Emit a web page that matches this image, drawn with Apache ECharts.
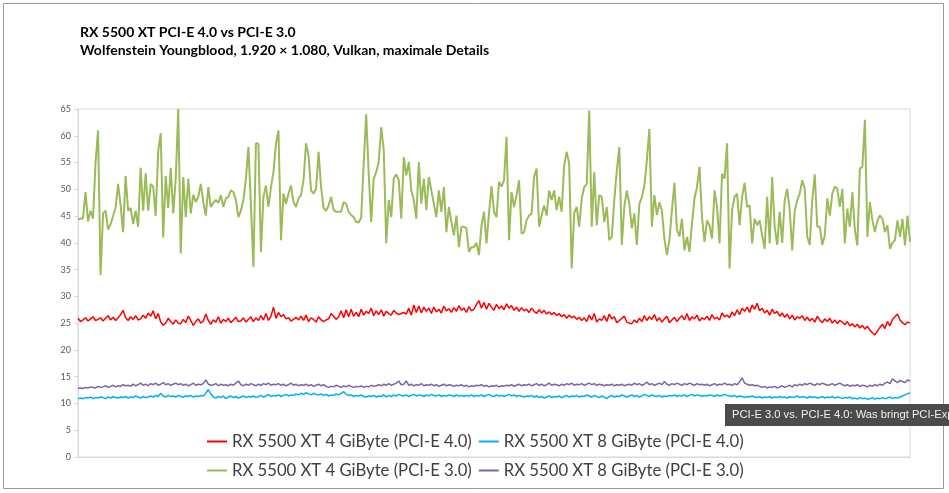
<!DOCTYPE html>
<html>
<head>
<meta charset="utf-8">
<script src="https://cdn.jsdelivr.net/npm/echarts@6/dist/echarts.min.js"></script>
<style>
  html, body { margin: 0; padding: 0; background: #ffffff; }
  #chart { width: 949px; height: 493px; }
</style>
</head>
<body>
<div id="chart"></div>
<script>
// ---------- data ----------
var titleLine1 = 'RX 5500 XT PCI-E 4.0 vs PCI-E 3.0';
var titleLine2 = 'Wolfenstein Youngblood, 1.920 \u00d7 1.080, Vulkan, maximale Details';
var captionText = 'PCI-E 3.0 vs. PCI-E 4.0: Was bringt PCI-Express 4.0?';

var seriesNames = [
  'RX 5500 XT 4 GiByte (PCI-E 4.0)',
  'RX 5500 XT 8 GiByte (PCI-E 4.0)',
  'RX 5500 XT 4 GiByte (PCI-E 3.0)',
  'RX 5500 XT 8 GiByte (PCI-E 3.0)'
];

var yTicks = [0, 5, 10, 15, 20, 25, 30, 35, 40, 45, 50, 55, 60, 65];

var red4GB_pcie4 = [
  25.9, 25.3, 25.6, 26.0, 25.4, 25.8, 26.2, 25.5, 25.7, 26.0,
  25.4, 25.9, 26.4, 25.6, 26.1, 25.5, 26.0, 26.6, 27.4, 26.0,
  25.5, 26.2, 25.7, 26.4, 25.6, 25.8, 26.5, 25.9, 26.9, 26.3,
  27.3, 25.8, 26.8, 25.2, 24.6, 25.0, 25.9, 25.3, 24.8, 25.6,
  25.0, 24.9, 25.7, 25.1, 26.3, 25.5, 24.6, 25.3, 25.8, 25.0,
  25.4, 26.7, 25.5, 24.8, 25.6, 25.2, 26.2, 25.0, 25.7, 25.3,
  25.9, 25.1, 25.6, 26.1, 25.3, 25.4, 26.0, 25.2, 25.7, 26.2,
  25.3, 26.0, 25.5, 26.4, 25.6, 26.8, 25.5, 26.3, 28.0, 25.9,
  27.0, 26.2, 26.6, 25.8, 26.0, 25.4, 25.7, 26.1, 25.6, 26.3,
  25.5, 26.5, 25.3, 26.0, 25.7, 25.2, 26.2, 25.6, 25.3, 25.6,
  25.8, 26.8, 26.3, 25.7, 26.2, 27.3, 26.0, 27.5, 26.2, 27.6,
  26.3, 27.0, 26.2, 27.6, 26.5, 27.2, 26.8, 27.8, 26.4, 27.3,
  26.6, 27.5, 26.3, 27.2, 26.8, 26.5, 27.4, 26.9, 26.6, 26.8,
  27.0, 26.7, 27.8, 26.5, 28.4, 27.0, 28.2, 26.9, 28.0, 27.2,
  27.8, 26.8, 28.0, 27.1, 27.6, 26.9, 28.2, 27.3, 27.7, 27.0,
  27.9, 27.2, 28.3, 27.4, 27.8, 27.0, 28.1, 27.3, 27.6, 28.5,
  29.2, 27.8, 28.9, 27.6, 28.7, 28.0, 27.4, 28.5, 27.7, 28.2,
  27.5, 28.6, 27.8, 28.3, 27.4, 28.0, 27.2, 27.9, 27.3, 27.6,
  27.0, 27.8, 27.2, 26.8, 27.5, 26.9, 27.4, 26.7, 27.1, 26.6,
  27.0, 26.4, 26.8, 26.2, 26.6, 25.9, 26.5, 26.0, 26.3, 25.7,
  26.1, 25.5, 26.0, 25.3, 26.5, 25.6, 26.8, 25.2, 25.8, 25.5,
  26.4, 25.3, 26.7, 25.8, 26.2, 25.1, 25.5, 25.9, 26.3, 25.2,
  25.0, 24.9, 25.6, 25.1, 25.9, 25.3, 26.4, 25.5, 26.2, 25.7,
  26.6, 25.4, 26.0, 25.2, 25.8, 26.3, 25.1, 25.6, 26.1, 25.3,
  25.9, 26.4, 25.6, 26.8, 25.5, 26.2, 25.8, 26.5, 25.4, 26.0,
  25.7, 26.3, 25.5, 26.6, 25.8, 26.1, 25.6, 26.9, 26.2, 26.5,
  26.0, 27.1, 26.4, 27.5, 26.6, 27.8, 27.2, 28.0, 27.0, 28.4,
  27.6, 28.7, 27.3, 27.8, 26.9, 27.4, 26.5, 27.6, 26.8, 27.2,
  26.3, 26.9, 26.1, 26.7, 25.8, 26.5, 25.6, 26.2, 25.9, 26.4,
  25.5, 26.1, 25.4, 25.9, 25.2, 26.3, 25.6, 25.1, 25.8, 25.3,
  25.9, 25.0, 25.6, 24.9, 25.5, 25.2, 24.7, 25.3, 24.5, 24.9,
  24.3, 24.8, 24.1, 24.6, 23.9, 24.4, 23.7, 23.2, 22.8, 23.5,
  24.2, 24.8, 24.0, 25.3, 24.5, 25.7, 26.2, 26.7, 25.6, 25.1,
  24.7, 25.2, 25.0
];

var blue8GB_pcie4 = [
  10.9, 11.0, 10.9, 11.1, 11.0, 11.2, 10.9, 11.1, 11.0, 11.2,
  11.1, 10.9, 11.2, 11.0, 11.3, 11.1, 11.0, 11.2, 11.1, 11.3,
  11.0, 11.2, 11.1, 11.4, 11.2, 11.0, 11.3, 11.1, 11.2, 11.4,
  11.2, 11.5, 11.3, 11.9, 11.4, 11.2, 11.5, 11.3, 11.4, 11.2,
  11.5, 11.3, 11.2, 11.4, 11.3, 11.5, 11.2, 11.4, 11.3, 11.5,
  11.4, 11.9, 12.6, 11.8, 11.2, 11.0, 11.3, 11.1, 11.4, 10.9,
  11.2, 11.4, 11.1, 11.3, 11.0, 11.2, 11.4, 11.1, 11.3, 11.2,
  11.4, 11.1, 11.3, 11.5, 11.2, 11.4, 11.7, 11.3, 11.5, 11.4,
  11.6, 11.3, 11.5, 11.7, 11.4, 11.6, 11.5, 11.8, 11.6, 11.9,
  11.7, 12.0, 11.8, 11.6, 11.9, 11.7, 11.6, 11.8, 11.5, 11.7,
  11.4, 11.6, 11.5, 11.8, 11.6, 11.9, 12.2, 11.7, 11.5, 11.6,
  11.3, 11.5, 11.4, 11.6, 11.3, 11.2, 11.4, 11.3, 11.5, 11.2,
  11.4, 11.3, 11.6, 11.2, 11.5, 11.3, 11.6, 11.4, 11.7, 11.5,
  11.4, 11.6, 11.3, 11.5, 11.7, 11.4, 11.6, 11.5, 11.3, 11.6,
  11.4, 11.7, 11.5, 11.4, 11.6, 11.3, 11.5, 11.4, 11.6, 11.5,
  11.3, 11.6, 11.4, 11.5, 11.3, 11.5, 11.4, 11.6, 11.3, 11.5,
  11.4, 11.6, 11.3, 11.5, 11.7, 11.4, 11.3, 11.6, 11.4, 11.5,
  11.3, 11.5, 11.7, 11.4, 11.6, 11.3, 11.5, 11.4, 11.2, 11.4,
  11.3, 11.5, 11.2, 11.4, 11.1, 11.3, 11.0, 11.2, 11.4, 11.1,
  11.3, 11.2, 11.4, 11.1, 11.3, 11.5, 11.2, 11.4, 11.3, 11.5,
  11.2, 11.4, 11.3, 11.6, 11.4, 11.2, 11.5, 11.3, 11.1, 11.4,
  11.2, 10.9, 11.3, 11.5, 11.2, 11.4, 11.3, 11.6, 11.4, 11.2,
  11.4, 11.6, 11.3, 11.5, 11.2, 11.4, 11.7, 11.5, 11.3, 11.6,
  11.4, 11.3, 11.5, 11.2, 11.4, 11.3, 11.5, 11.4, 11.6, 11.3,
  11.5, 11.4, 11.6, 11.3, 11.5, 11.7, 11.4, 11.6, 11.5, 11.3,
  11.5, 11.4, 11.6, 11.5, 11.3, 11.6, 11.4, 11.5, 11.7, 11.5,
  11.4, 11.3, 11.5, 11.2, 11.4, 11.3, 11.1, 11.3, 11.2, 11.4,
  11.2, 11.1, 11.3, 11.0, 11.2, 11.1, 11.3, 11.0, 11.2, 11.1,
  11.3, 11.1, 11.2, 11.0, 11.3, 11.1, 11.2, 11.4, 11.1, 11.3,
  11.2, 11.0, 11.3, 11.1, 11.2, 11.0, 11.1, 11.3, 11.0, 11.2,
  11.1, 11.3, 11.0, 11.2, 11.1, 10.9, 11.1, 11.0, 11.2, 10.9,
  11.0, 10.8, 11.1, 10.9, 11.0, 10.8, 10.9, 11.1, 10.8, 11.0,
  10.9, 11.1, 10.9, 11.0, 11.2, 10.9, 11.1, 11.0, 11.2, 11.4,
  11.6, 11.8, 12.0
];

var green4GB_pcie3 = [
  44.4, 44.5, 44.6, 49.5, 44.0, 46.0, 44.5, 55.0, 61.0, 34.0,
  45.5, 46.0, 42.5, 43.5, 45.0, 46.5, 51.0, 47.0, 42.0, 52.5,
  46.0, 46.5, 43.5, 46.0, 43.0, 54.0, 46.0, 53.0, 46.0, 51.0,
  50.5, 45.0, 57.0, 60.5, 41.0, 52.5, 46.5, 54.0, 45.5, 52.0,
  65.0, 38.0, 52.3, 44.8, 52.0, 45.5, 49.0, 47.6, 48.6, 51.0,
  47.6, 45.1, 50.4, 46.7, 47.5, 48.0, 47.5, 48.9, 46.7, 48.3,
  48.6, 49.8, 49.5, 48.0, 44.8, 46.0, 48.0, 52.0, 57.9, 47.0,
  35.5, 58.6, 58.5, 38.3, 48.6, 50.7, 46.7, 50.4, 53.2, 58.5,
  61.0, 40.5, 49.2, 47.3, 49.2, 50.7, 47.6, 46.7, 48.3, 48.9,
  51.7, 58.6, 56.3, 49.8, 49.2, 50.1, 57.0, 50.4, 46.5, 46.0,
  47.0, 48.6, 46.1, 45.8, 45.8, 45.8, 47.6, 47.3, 45.8, 45.2,
  44.8, 43.9, 43.8, 44.7, 54.8, 64.0, 52.9, 43.9, 52.0, 53.2,
  55.1, 61.6, 57.3, 39.9, 48.0, 44.8, 52.0, 52.8, 51.7, 44.5,
  56.0, 52.6, 55.1, 49.8, 48.0, 44.5, 55.1, 47.3, 52.0, 46.1,
  52.3, 49.8, 47.3, 44.8, 49.8, 45.8, 50.4, 42.0, 46.7, 43.9,
  41.4, 45.1, 39.2, 43.0, 43.0, 42.7, 38.3, 39.2, 39.2, 40.0,
  37.7, 43.2, 45.8, 39.9, 45.5, 50.6, 45.8, 44.8, 51.4, 50.5,
  51.7, 59.8, 40.5, 49.5, 46.7, 48.9, 51.7, 41.7, 42.0, 44.2,
  45.1, 45.5, 52.3, 53.9, 43.0, 45.1, 47.0, 45.1, 49.8, 48.0,
  49.8, 46.1, 48.6, 45.8, 54.5, 57.0, 54.8, 35.2, 45.5, 46.7,
  43.0, 48.3, 50.4, 51.0, 64.7, 43.0, 53.2, 43.3, 48.9, 48.6,
  43.9, 46.7, 40.5, 41.1, 48.0, 53.5, 57.9, 39.6, 46.7, 49.8,
  47.3, 42.7, 45.5, 39.6, 47.3, 48.5, 50.7, 55.4, 61.3, 43.0,
  48.9, 45.2, 47.6, 46.0, 40.8, 37.7, 40.5, 46.1, 51.2, 42.4,
  41.2, 44.5, 38.6, 41.1, 38.3, 43.6, 48.3, 50.4, 54.2, 44.8,
  40.2, 44.2, 43.3, 40.8, 49.8, 46.7, 39.9, 52.9, 52.0, 58.6,
  35.2, 46.1, 48.6, 49.2, 43.3, 48.6, 51.2, 46.7, 47.0, 39.9,
  44.5, 43.3, 44.2, 41.4, 38.9, 48.6, 39.9, 52.3, 43.0, 39.6,
  45.8, 40.0, 48.0, 50.1, 46.1, 38.6, 46.0, 48.0, 49.2, 51.7,
  50.1, 41.1, 39.6, 48.0, 52.8, 43.0, 43.0, 39.6, 41.4, 48.3,
  45.1, 49.2, 50.5, 50.1, 46.7, 50.1, 39.9, 46.4, 43.0, 49.5,
  42.4, 39.5, 53.9, 54.2, 63.0, 41.1, 47.6, 44.2, 42.0, 44.2,
  45.1, 44.5, 42.0, 43.3, 38.9, 40.0, 40.5, 44.2, 41.1, 44.5,
  39.5, 45.1, 40.2
];

var purple8GB_pcie3 = [
  12.8, 12.9, 12.8, 13.0, 12.9, 13.1, 13.0, 12.9, 13.2, 13.0,
  13.1, 13.3, 13.0, 13.2, 13.4, 13.1, 13.3, 13.2, 13.5, 13.3,
  13.4, 13.2, 13.6, 13.3, 13.5, 13.8, 13.4, 13.6, 13.3, 13.7,
  13.5, 13.8, 13.4, 13.6, 13.9, 13.5, 13.7, 13.4, 13.6, 13.8,
  13.5, 13.7, 13.4, 13.6, 13.3, 13.5, 13.8, 13.4, 13.6, 13.5,
  13.7, 14.4, 13.6, 13.4, 13.5, 13.7, 13.3, 13.6, 13.4, 13.5,
  13.3, 13.6, 13.4, 13.8, 14.2, 13.5, 13.3, 13.6, 13.4, 13.7,
  13.5, 13.3, 13.6, 13.4, 13.7, 13.5, 13.8, 13.4, 13.6, 13.5,
  13.7, 13.4, 13.6, 13.3, 13.5, 13.8, 13.4, 13.6, 13.3, 13.5,
  13.4, 13.6, 13.3, 13.5, 13.2, 13.4, 13.6, 13.3, 13.5, 13.2,
  13.0, 13.2, 13.1, 13.4, 13.2, 13.0, 13.3, 13.1, 13.4, 13.2,
  13.0, 13.2, 13.1, 13.3, 13.0, 13.2, 13.1, 13.4, 13.2, 13.3,
  13.5, 13.3, 13.6, 13.4, 13.7, 13.4, 13.6, 13.8, 14.2, 13.5,
  13.6, 14.2, 13.4, 13.6, 13.3, 13.5, 13.4, 13.7, 13.3, 13.5,
  13.4, 13.6, 13.3, 13.5, 13.2, 13.4, 13.6, 13.3, 13.5, 13.4,
  13.2, 13.4, 13.3, 13.5, 13.2, 13.4, 13.1, 13.3, 13.2, 13.4,
  13.3, 13.5, 13.2, 13.4, 13.1, 13.3, 13.2, 13.4, 13.1, 13.3,
  13.2, 13.4, 13.3, 13.5, 13.2, 13.4, 13.6, 13.3, 13.5, 13.4,
  13.6, 13.3, 13.5, 13.7, 13.4, 13.6, 13.3, 13.5, 13.8, 13.4,
  13.6, 13.5, 13.3, 13.6, 13.4, 13.7, 13.5, 13.8, 13.4, 13.6,
  13.5, 13.7, 13.4, 13.6, 13.8, 13.5, 13.7, 13.4, 13.6, 13.5,
  13.3, 13.5, 13.4, 13.6, 13.3, 13.5, 13.4, 13.6, 13.3, 13.5,
  13.6, 13.4, 13.8, 13.5, 13.7, 13.4, 13.6, 14.0, 13.5, 13.7,
  13.4, 13.6, 13.8, 13.5, 14.1, 13.6, 13.4, 13.7, 13.5, 13.8,
  13.6, 13.4, 13.7, 13.5, 13.8, 13.6, 13.4, 13.7, 13.5, 13.6,
  13.4, 13.6, 13.3, 13.5, 13.7, 13.4, 13.6, 13.5, 13.8, 13.5,
  13.6, 13.4, 13.7, 13.5, 14.0, 14.8, 13.8, 13.6, 13.4, 13.5,
  13.3, 13.4, 13.2, 13.0, 13.2, 12.9, 13.1, 13.0, 13.2, 12.9,
  13.1, 13.3, 13.0, 13.2, 13.4, 13.1, 13.5, 13.3, 13.6, 13.4,
  13.7, 13.5, 13.8, 13.6, 13.4, 13.7, 13.5, 13.8, 13.6, 13.4,
  13.5, 13.7, 13.4, 13.6, 13.8, 13.5, 13.3, 13.5, 13.2, 13.4,
  13.3, 13.5, 13.2, 13.4, 13.3, 13.1, 13.4, 13.2, 13.5, 13.3,
  13.6, 13.4, 13.8, 14.0, 13.7, 14.6, 14.2, 13.9, 14.3, 14.1,
  13.9, 14.4, 14.2
];

var samples = [];
for (var k = 1; k <= green4GB_pcie3.length; k++) { samples.push(String(k)); }

// ---------- chart ----------
var chart = echarts.init(document.getElementById('chart'), null, { renderer: 'canvas' });

var legendText = { fontFamily: 'Lato', fontSize: 16.7, color: '#404040' };

var option = {
  animation: false,
  backgroundColor: '#ffffff',
  title: {
    text: titleLine1 + '\n' + titleLine2,
    left: 75,
    top: 18,
    textStyle: { fontFamily: 'Lato', fontSize: 14, fontWeight: 'bold', color: '#000000', lineHeight: 18 }
  },
  grid: {
    left: 78, right: 39, top: 109, bottom: 36,
    show: true, borderColor: '#d9d9d9', borderWidth: 1, backgroundColor: 'transparent'
  },
  legend: [
    {
      data: [seriesNames[0], seriesNames[1]],
      left: 202, top: 428, itemWidth: 20, itemHeight: 2, itemGap: 7, icon: 'rect',
      textStyle: legendText
    },
    {
      data: [seriesNames[2], seriesNames[3]],
      left: 202, top: 457, itemWidth: 20, itemHeight: 2, itemGap: 7, icon: 'rect',
      textStyle: legendText
    }
  ],
  xAxis: {
    type: 'category',
    data: samples,
    boundaryGap: false,
    axisLine: { show: true, lineStyle: { color: '#d9d9d9' } },
    axisTick: { show: false },
    axisLabel: { show: false },
    splitLine: { show: false }
  },
  yAxis: {
    type: 'value',
    min: yTicks[0],
    max: yTicks[yTicks.length - 1],
    interval: 5,
    axisLine: { show: true, lineStyle: { color: '#d9d9d9' } },
    axisTick: { show: true, length: 4, lineStyle: { color: '#d9d9d9' } },
    axisLabel: { fontFamily: 'Lato', fontSize: 9, color: '#595959', margin: 7 },
    splitLine: { show: false }
  },
  series: [
    {
      name: seriesNames[0], type: 'line', data: red4GB_pcie4, symbol: 'none',
      lineStyle: { color: '#ff0000', width: 1.5 }, itemStyle: { color: '#ff0000' }
    },
    {
      name: seriesNames[1], type: 'line', data: blue8GB_pcie4, symbol: 'none',
      lineStyle: { color: '#00b0f0', width: 1.5 }, itemStyle: { color: '#00b0f0' }
    },
    {
      name: seriesNames[2], type: 'line', data: green4GB_pcie3, symbol: 'none',
      lineStyle: { color: '#9bbb59', width: 2 }, itemStyle: { color: '#9bbb59' }
    },
    {
      name: seriesNames[3], type: 'line', data: purple8GB_pcie3, symbol: 'none',
      lineStyle: { color: '#8064a2', width: 1.5 }, itemStyle: { color: '#8064a2' }
    }
  ],
  graphic: [
    {
      type: 'rect', z: 100, silent: true,
      shape: { x: 3.5, y: 3.5, width: 940, height: 485 },
      style: { fill: 'none', stroke: '#9a9a9a', lineWidth: 1 }
    },
    {
      type: 'rect', z: 110, silent: true,
      shape: { x: 725, y: 404, width: 230, height: 22 },
      style: { fill: '#4b4b4b' }
    },
    {
      type: 'text', z: 111, silent: true,
      x: 732, y: 415,
      style: { text: captionText, fill: '#f0f0f0', font: '11.2px "Liberation Sans", Arial, sans-serif', textVerticalAlign: 'middle' }
    }
  ]
};

chart.setOption(option);
</script>
</body>
</html>
